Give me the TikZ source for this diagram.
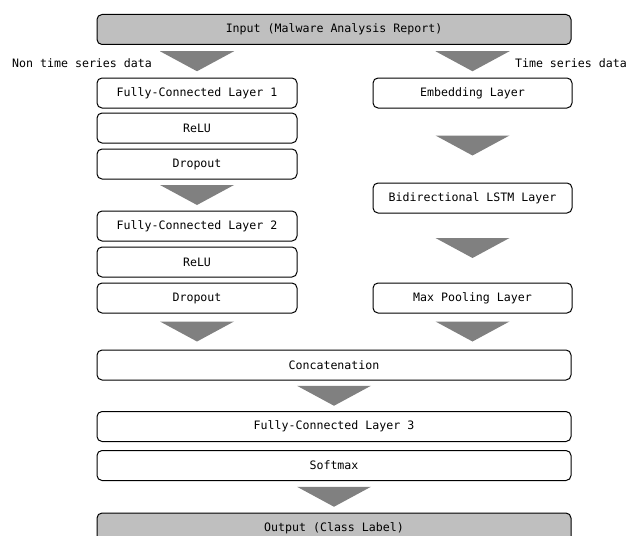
\documentclass[tikz,border=0pt]{standalone}
\usepackage{fontspec}
\setmonofont{DejaVu Sans Mono}
\usetikzlibrary{calc}

\tikzset{
  layer/.style={draw, rounded corners=5pt, line width=1pt, minimum height=30pt,
    inner sep=0pt, font=\ttfamily\fontsize{11.6}{13}\selectfont},
  iolayer/.style={layer, fill=black!25, minimum width=474pt},
  leftlayer/.style={layer, minimum width=200pt},
  rightlayer/.style={layer, minimum width=199pt},
  widelayer/.style={layer, minimum width=474pt},
  flowtri/.style={fill=black!50},
  sidelabel/.style={inner sep=0pt, font=\ttfamily\fontsize{11.6}{13}\selectfont}
}
% filled wedge half way between two points
\newcommand{\wedgebetween}[2]{
  \fill[flowtri] ($(#1)!0.5!(#2)$) +(-37,-10) -- +(37,-10) -- +(0,10) -- cycle;
}

\begin{document}
\begin{tikzpicture}[x=1pt, y=-1pt]
  \useasboundingbox (0,0) rectangle (628,535);
  \clip (0,0) rectangle (628,535);

  \node[iolayer] (in) at (334,29.5) {Input (Malware Analysis Report)};

  % non time series branch
  \node[leftlayer] (fc1)   at (197,93)  {Fully-Connected Layer 1};
  \node[leftlayer] (relu1) at (197,128) {ReLU};
  \node[leftlayer] (drop1) at (197,164) {Dropout};
  \node[leftlayer] (fc2)   at (197,226) {Fully-Connected Layer 2};
  \node[leftlayer] (relu2) at (197,262) {ReLU};
  \node[leftlayer] (drop2) at (197,298) {Dropout};

  % time series branch
  \node[rightlayer] (emb)    at (472.5,93)  {Embedding Layer};
  \node[rightlayer] (bilstm) at (472.5,198) {Bidirectional LSTM Layer};
  \node[rightlayer] (maxp)   at (472.5,298) {Max Pooling Layer};

  \node[widelayer] (cat)  at (334,365)   {Concatenation};
  \node[widelayer] (fc3)  at (334,426.5) {Fully-Connected Layer 3};
  \node[widelayer] (soft) at (334,465.5) {Softmax};
  \node[iolayer]   (out)  at (334,528)   {Output (Class Label)};

  \node[sidelabel, anchor=west] (nts) at (12,63)  {Non time series data};
  \node[sidelabel, anchor=east] (ts)  at (627,63) {Time series data};

  \wedgebetween{in.south -| fc1.north}{fc1.north}
  \wedgebetween{in.south -| emb.north}{emb.north}
  \wedgebetween{drop1.south}{fc2.north}
  \wedgebetween{emb.south}{bilstm.north}
  \wedgebetween{bilstm.south}{maxp.north}
  \wedgebetween{drop2.south}{cat.north -| drop2.south}
  \wedgebetween{maxp.south}{cat.north -| maxp.south}
  \wedgebetween{cat.south}{fc3.north}
  \wedgebetween{soft.south}{out.north}
\end{tikzpicture}
\end{document}
